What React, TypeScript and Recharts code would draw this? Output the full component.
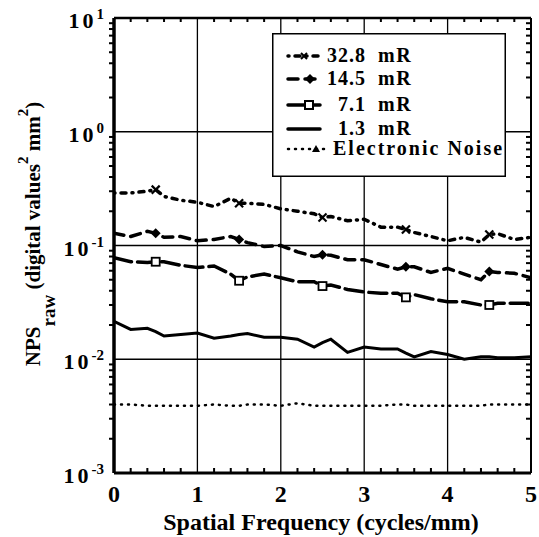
import React from "react";
import { LineChart, Line, XAxis, YAxis, ReferenceLine } from "recharts";

// spatial frequency (cycles/mm)
const freq = [0, 0.2, 0.4, 0.5, 0.6, 0.8, 1, 1.2, 1.4, 1.5, 1.6, 1.8, 2, 2.2, 2.4, 2.5, 2.6, 2.8, 3, 3.2, 3.4, 3.5, 3.6, 3.8, 4, 4.2, 4.4, 4.5, 4.6, 4.8, 5];

const nps32_8 = [0.29, 0.29, 0.3, 0.31, 0.27, 0.25, 0.24, 0.22, 0.26, 0.235, 0.235, 0.23, 0.21, 0.2, 0.19, 0.176, 0.18, 0.165, 0.17, 0.145, 0.145, 0.138, 0.13, 0.12, 0.11, 0.118, 0.107, 0.125, 0.127, 0.113, 0.118];
const nps14_5 = [0.128, 0.12, 0.133, 0.128, 0.118, 0.12, 0.11, 0.113, 0.12, 0.113, 0.106, 0.098, 0.1, 0.088, 0.08, 0.083, 0.082, 0.075, 0.075, 0.068, 0.062, 0.065, 0.065, 0.058, 0.063, 0.056, 0.05, 0.059, 0.058, 0.057, 0.052];
const nps7_1 = [0.078, 0.072, 0.071, 0.072, 0.072, 0.067, 0.064, 0.066, 0.056, 0.049, 0.053, 0.056, 0.052, 0.048, 0.048, 0.044, 0.045, 0.041, 0.039, 0.038, 0.038, 0.035, 0.037, 0.034, 0.032, 0.032, 0.03, 0.03, 0.031, 0.031, 0.031];
const nps1_3 = [0.0215, 0.0183, 0.0187, 0.0175, 0.016, 0.0165, 0.017, 0.0153, 0.016, 0.0165, 0.0168, 0.0156, 0.0156, 0.015, 0.0128, 0.014, 0.015, 0.0115, 0.0128, 0.0123, 0.0123, 0.0113, 0.0105, 0.0117, 0.011, 0.01, 0.0105, 0.0105, 0.0103, 0.0103, 0.0105];
const noise = [0.004, 0.004, 0.0039, 0.0039, 0.0039, 0.0039, 0.0039, 0.004, 0.0039, 0.0039, 0.004, 0.004, 0.0039, 0.0041, 0.0039, 0.0039, 0.0039, 0.0039, 0.0039, 0.0039, 0.004, 0.004, 0.0039, 0.0039, 0.0039, 0.0039, 0.0039, 0.004, 0.004, 0.004, 0.004];

const xTicks = [0, 1, 2, 3, 4, 5];
const xMinor = [0.2, 0.4, 0.6, 0.8, 1.2, 1.4, 1.6, 1.8, 2.2, 2.4, 2.6, 2.8, 3.2, 3.4, 3.6, 3.8, 4.2, 4.4, 4.6, 4.8];
const xGrid = [1, 2, 3, 4];
const yTicks = [0.001, 0.002, 0.003, 0.004, 0.005, 0.006, 0.007, 0.008, 0.009, 0.01, 0.02, 0.03, 0.04, 0.05, 0.06, 0.07, 0.08, 0.09, 0.1, 0.2, 0.3, 0.4, 0.5, 0.6, 0.7, 0.8, 0.9, 1, 2, 3, 4, 5, 6, 7, 8, 9, 10];
const yGrid = [0.01, 0.1, 1];

const rows = freq.map((f, i) => ({
  f,
  a: nps32_8[i],
  b: nps14_5[i],
  c: nps7_1[i],
  d: nps1_3[i],
  e: noise[i],
}));

const W = 539;
const H = 537;
const PT = 18;
const PL = 114;
const PR = 531;
const PB = 473;
const FONT = "'Liberation Serif', 'Times New Roman', serif";

const XTick = (props: any) => {
  const { x, payload } = props;
  return (
    <text x={x} y={502} textAnchor="middle" fontFamily={FONT} fontWeight="bold" fontSize={24} fill="#000">
      {payload.value}
    </text>
  );
};

// labels on the decades, small marks on both frame sides for every tick
const YTick = (props: any) => {
  const { y, payload } = props;
  const lg = Math.log10(payload.value);
  const e = Math.round(lg);
  const major = Math.abs(lg - e) < 1e-6;
  return (
    <g>
      {!major && <rect x={PL - 5} y={y - 1} width={6} height={2} fill="#000" />}
      {!major && <rect x={PR - 5} y={y - 1} width={5} height={2} fill="#000" />}
      {major ? (
        <text x={PL - 10} y={y + 10} textAnchor="end" fontFamily={FONT} fontWeight="bold" fontSize={22} fill="#000">
          <tspan letterSpacing={3}>10</tspan>
          <tspan dy={-9} fontSize={15}>{e}</tspan>
        </text>
      ) : null}
    </g>
  );
};

const VTickShape = (p: any) => {
  const x = p.x1;
  return (
    <g>
      <rect x={x - 1} y={PB - 5} width={2} height={5} fill="#000" />
      <rect x={x - 1} y={PT} width={2} height={4} fill="#000" />
    </g>
  );
};

const marker = (kind: string) => (props: any) => {
  const { cx, cy, payload, index } = props;
  if (payload.f % 1 !== 0.5 || cx == null) return <g key={index} />;
  if (kind === "x") {
    return (
      <g key={index} stroke="#000" strokeWidth={2.2}>
        <line x1={cx - 4} y1={cy - 4} x2={cx + 4} y2={cy + 4} />
        <line x1={cx - 4} y1={cy + 4} x2={cx + 4} y2={cy - 4} />
      </g>
    );
  }
  if (kind === "diamond") {
    return <path key={index} d={`M${cx},${cy - 5}L${cx + 5},${cy}L${cx},${cy + 5}L${cx - 5},${cy}Z`} fill="#000" />;
  }
  if (kind === "square") {
    return <rect key={index} x={cx - 4} y={cy - 4} width={8} height={8} fill="#fff" stroke="#000" strokeWidth={1.8} />;
  }
  return <g key={index} />;
};

const YTitle = () => (
  <text transform="translate(40,234) rotate(-90)" textAnchor="middle" fontFamily={FONT} fontWeight="bold" fontSize={21} fill="#000">
    <tspan>NPS</tspan>
    <tspan dy={15} fontSize={19}>raw</tspan>
    <tspan dy={-15}> (digital values</tspan>
    <tspan dy={-12} fontSize={15}>2</tspan>
    <tspan dy={12}> mm</tspan>
    <tspan dy={-12} fontSize={15}>2</tspan>
    <tspan dy={12}>)</tspan>
  </text>
);

const XTitle = () => (
  <text x={321} y={530} textAnchor="middle" fontFamily={FONT} fontWeight="bold" fontSize={24} fill="#000">
    Spatial Frequency  (cycles/mm)
  </text>
);

const legendRows = [
  { num: "32.8", unit: "mR", dash: "1 6 5 6", kind: "x" },
  { num: "14.5", unit: "mR", dash: "10 7", kind: "diamond" },
  { num: "7.1", unit: "mR", dash: "18 6", kind: "square" },
  { num: "1.3", unit: "mR", dash: "", kind: "dot" },
];

const Legend = () => {
  const base = [29, 52, 78, 102];
  return (
    <svg width={234} height={144} style={{ position: "absolute", left: 272, top: 33 }}>
      <rect x={0.75} y={0.75} width={232.5} height={142.5} fill="#fff" stroke="#000" strokeWidth={1.5} />
      {legendRows.map((r, i) => {
        const y = base[i] - 6;
        return (
          <g key={r.num}>
            <line x1={16} x2={48} y1={y} y2={y} stroke="#000" strokeWidth={3.5} strokeDasharray={r.dash || undefined} strokeLinecap="round" />
            {r.kind === "x" && (
              <g stroke="#000" strokeWidth={2}>
                <line x1={29} y1={y - 3} x2={35} y2={y + 3} />
                <line x1={29} y1={y + 3} x2={35} y2={y - 3} />
              </g>
            )}
            {r.kind === "diamond" && <path d={`M38,${y - 5}L43,${y}L38,${y + 5}L33,${y}Z`} fill="#000" />}
            {r.kind === "square" && <rect x={33} y={y - 4} width={8} height={8} fill="#fff" stroke="#000" strokeWidth={2} />}
            <text x={94} y={base[i]} textAnchor="end" fontFamily={FONT} fontWeight="bold" fontSize={20} letterSpacing={1} fill="#000">
              {r.num}
            </text>
            <text x={106} y={base[i]} fontFamily={FONT} fontWeight="bold" fontSize={20} letterSpacing={1.5} fill="#000">
              {r.unit}
            </text>
          </g>
        );
      })}
      <line x1={16} x2={58} y1={116} y2={116} stroke="#000" strokeWidth={2.5} strokeDasharray="1 6" strokeLinecap="round" />
      <path d="M44,112L48,119L40,119Z" fill="#000" />
      <text x={61} y={122} fontFamily={FONT} fontWeight="bold" fontSize={20} letterSpacing={2} fill="#000">
        Electronic Noise
      </text>
    </svg>
  );
};

export default function App() {
  return (
    <div style={{ position: "absolute", left: 0, top: 0, width: W, height: H, background: "#fff" }}>
      <LineChart width={W} height={H} data={rows} margin={{ top: PT, right: W - PR, bottom: 0, left: 0 }}>
        <XAxis
          dataKey="f"
          type="number"
          domain={[0, 5]}
          ticks={xTicks}
          interval={0}
          allowDataOverflow
          height={H - PB}
          tickLine={false}
          axisLine={{ stroke: "#000", strokeWidth: 3 }}
          tick={XTick}
          label={{ content: XTitle }}
        />
        <YAxis
          type="number"
          scale="log"
          domain={[0.001, 10]}
          ticks={yTicks}
          interval={0}
          allowDataOverflow
          width={PL}
          tickLine={false}
          axisLine={{ stroke: "#000", strokeWidth: 3.5 }}
          tick={YTick}
          label={{ content: YTitle }}
        />
        {xGrid.map((g) => (
          <ReferenceLine key={"x" + g} x={g} stroke="#000" strokeWidth={1.3} />
        ))}
        {yGrid.map((g) => (
          <ReferenceLine key={"y" + g} y={g} stroke="#000" strokeWidth={1.3} />
        ))}
        {xMinor.map((g) => (
          <ReferenceLine key={"mx" + g} x={g} stroke="#000" shape={VTickShape} />
        ))}
        <ReferenceLine y={10} stroke="#000" strokeWidth={2.5} />
        <ReferenceLine x={5} stroke="#000" strokeWidth={2} />
        <Line dataKey="e" stroke="#000" strokeWidth={2.5} strokeDasharray="1 6" strokeLinecap="round" dot={false} activeDot={false} isAnimationActive={false} />
        <Line dataKey="d" stroke="#000" strokeWidth={3} dot={false} activeDot={false} isAnimationActive={false} />
        <Line dataKey="c" stroke="#000" strokeWidth={3.5} strokeDasharray="18 6" strokeLinecap="round" dot={marker("square")} activeDot={false} isAnimationActive={false} />
        <Line dataKey="b" stroke="#000" strokeWidth={3.5} strokeDasharray="10 7" strokeLinecap="round" dot={marker("diamond")} activeDot={false} isAnimationActive={false} />
        <Line dataKey="a" stroke="#000" strokeWidth={3.5} strokeDasharray="1 6 5 6" strokeLinecap="round" dot={marker("x")} activeDot={false} isAnimationActive={false} />
      </LineChart>
      <Legend />
    </div>
  );
}
